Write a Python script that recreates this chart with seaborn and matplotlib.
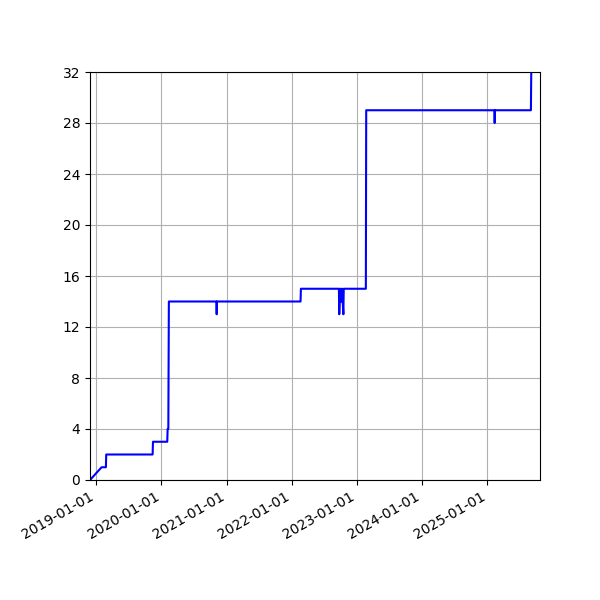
import matplotlib
matplotlib.use("Agg")
import matplotlib.pyplot as plt
import matplotlib.dates as mdates
import matplotlib.ticker as mticker
import pandas as pd
import seaborn as sns

dates = [
    "2018-11-27", "2019-01-31", "2019-02-24", "2019-02-26",
    "2019-11-13", "2019-11-15", "2020-02-03", "2020-02-05",
    "2020-02-09", "2020-02-12",
    "2020-11-05", "2020-11-06", "2020-11-07",
    "2022-02-19", "2022-02-21",
    "2022-09-22", "2022-09-24", "2022-09-26", "2022-09-29", "2022-10-01",
    "2022-10-04", "2022-10-07", "2022-10-10", "2022-10-13", "2022-10-17",
    "2022-10-19",
    "2023-02-20", "2023-02-22",
    "2025-02-10", "2025-02-11", "2025-02-12",
    "2025-09-02", "2025-09-04",
]
counts = [
    0, 1, 1, 2,
    2, 3, 3, 4,
    4, 14,
    14, 13, 14,
    14, 15,
    15, 13, 14, 15, 14,
    15, 14, 15, 14, 13,
    15,
    15, 29,
    29, 28, 29,
    29, 32,
]

df = pd.DataFrame({"date": pd.to_datetime(dates), "count": counts})

fig, ax = plt.subplots(figsize=(6, 6), dpi=100)
sns.lineplot(data=df, x="date", y="count", color="blue", linewidth=1.5, estimator=None, sort=False, ax=ax)
ax.set_xlabel("")
ax.set_ylabel("")
ax.set_ylim(0, 32)
ax.set_xlim(pd.Timestamp("2018-11-27"), pd.Timestamp("2025-10-23"))
ax.yaxis.set_major_locator(mticker.MultipleLocator(4))
ax.xaxis.set_major_locator(mdates.YearLocator())
ax.xaxis.set_major_formatter(mdates.DateFormatter("%Y-%m-%d"))
ax.grid(True)
fig.autofmt_xdate()
fig.subplots_adjust(left=0.15, right=0.9, top=0.88, bottom=0.2)
fig.savefig("out.png", dpi=100)
